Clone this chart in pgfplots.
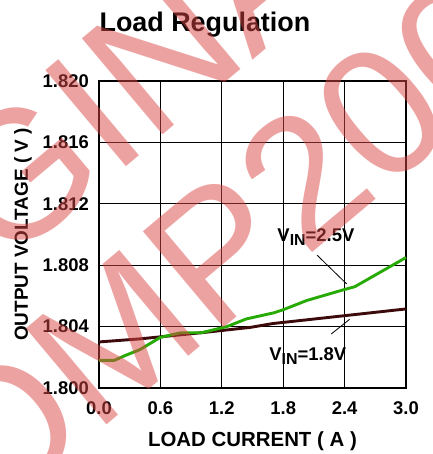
\documentclass[border=0pt]{standalone}
\usepackage{pgfplots}
\pgfplotsset{compat=1.18}
\usepackage{fontspec}
\setmainfont{Liberation Sans}
\newfontfamily\wmfont{Liberation Sans}
\definecolor{vgreen}{RGB}{40,170,5}
\definecolor{vbrown}{RGB}{60,10,10}
\definecolor{wmred}{RGB}{220,70,70}
\begin{document}
\begin{tikzpicture}[x=1bp,y=1bp]
\useasboundingbox (0,0) rectangle (433,454);
\begin{axis}[
  at={(99bp,66bp)}, anchor=south west,
  scale only axis, width=307bp, height=307bp,
  xmin=0, xmax=3, ymin=1.800, ymax=1.820,
  scaled x ticks=false, scaled y ticks=false,
  xtick={0,0.6,1.2,1.8,2.4,3.0},
  xticklabels={0.0,0.6,1.2,1.8,2.4,3.0},
  ytick={1.800,1.804,1.808,1.812,1.816,1.820},
  yticklabels={1.800,1.804,1.808,1.812,1.816,1.820},
  grid=major, major grid style={black, line width=1.1bp},
  axis line style={black, line width=1.8bp},
  major tick length=0pt,
  /pgf/number format/assume math mode=true,
  ticklabel style={font=\bfseries\fontsize{18.5}{18.5}\selectfont, inner sep=0pt},
  xticklabel style={yshift=-13bp},
  yticklabel style={xshift=-10bp},
  title={Load Regulation},
  title style={at={(axis description cs:0.345,1.1433)}, anchor=base, inner sep=0pt,
    font=\bfseries\fontsize{27}{27}\selectfont},
  xlabel={LOAD CURRENT ( A )},
  xlabel style={at={(axis description cs:0.5,-0.1726)}, anchor=center, inner sep=0pt,
    font=\bfseries\fontsize{20.5}{20.5}\selectfont},
  ylabel={OUTPUT VOLTAGE ( V )},
  ylabel style={at={(axis description cs:-0.248,0.50)}, anchor=center, inner sep=0pt,
    font=\bfseries\fontsize{19}{19}\selectfont},
  clip=false,
]
\addplot[vbrown, line width=2.9bp, line join=round] coordinates {
 (0,1.8030) (0.4,1.8032) (1.0,1.8036) (1.48,1.80395) (1.7,1.8042) (3.0,1.80515)};
\addplot[vgreen, line width=2.9bp, line join=round] coordinates {
 (0,1.8018) (0.15,1.8018) (0.25,1.8021) (0.4,1.8025) (0.6,1.8033) (0.8,1.8036)
 (1.0,1.8036) (1.25,1.8040) (1.44,1.8045) (1.71,1.8049) (1.80,1.8051)
 (2.03,1.8057) (2.39,1.8064) (2.50,1.8066) (3.0,1.8085)};
\draw[black, line width=0.8bp] (axis cs:2.13,1.80866) -- (axis cs:2.42,1.80678);
\draw[black, line width=0.8bp] (axis cs:2.27,1.80352) -- (axis cs:2.45,1.80448);
\node[font=\bfseries\fontsize{18.5}{18.5}\selectfont, inner sep=0pt] at (axis cs:2.12,1.8098)
  {V{\fontsize{16}{16}\selectfont\raisebox{-4bp}{IN}}=2.5V};
\node[font=\bfseries\fontsize{18.5}{18.5}\selectfont, inner sep=0pt] at (axis cs:2.04,1.8021)
  {V{\fontsize{16}{16}\selectfont\raisebox{-4bp}{IN}}=1.8V};
\end{axis}
\begin{scope}
\clip (0,0) rectangle (433,454);
\node[rotate=40, anchor=base west, inner sep=0pt, text=wmred, text opacity=0.5,
  font=\wmfont\fontsize{183}{183}\selectfont] at (-13,-72) {OMP2000};
\node[rotate=40, anchor=base west, inner sep=0pt, text=wmred, text opacity=0.5,
  font=\wmfont\fontsize{183}{183}\selectfont] at (-244,-23) {ORIGINAL};
\end{scope}
\end{tikzpicture}
\end{document}
